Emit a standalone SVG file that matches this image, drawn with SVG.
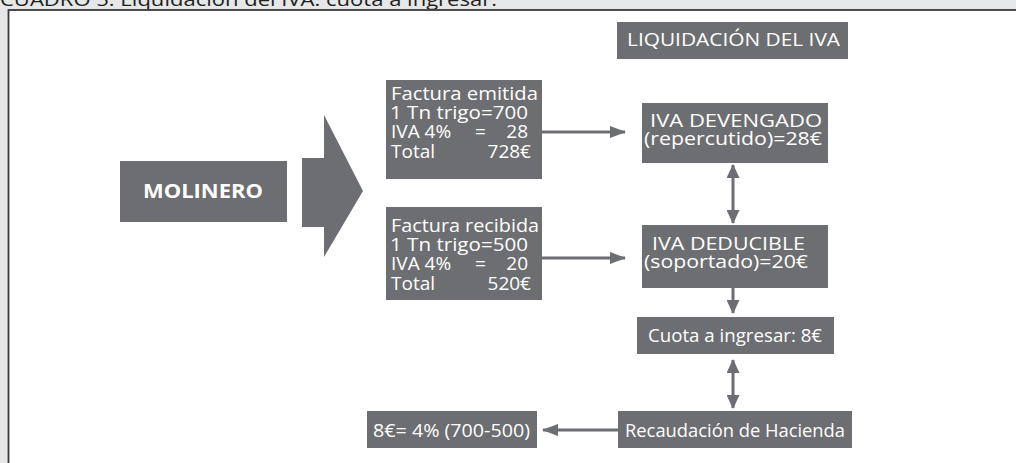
<svg xmlns="http://www.w3.org/2000/svg" width="1016" height="463" viewBox="0 0 1016 463">
<defs>
<style>
.box{fill:#6d6e71}
.t{font-family:"Open Sans",Lato,sans-serif;fill:#ffffff;font-size:19px}
.c{stroke:#6d6e71;stroke-width:3;fill:none}
</style>
<marker id="ah" viewBox="0 0 16 12" refX="15" refY="6" markerWidth="16" markerHeight="12" markerUnits="userSpaceOnUse" orient="auto-start-reverse">
<path d="M0,0 L16,6 L0,12 Z" fill="#6d6e71"/>
</marker>
<marker id="ahv" viewBox="0 0 14 13" refX="13" refY="6.5" markerWidth="14" markerHeight="13" markerUnits="userSpaceOnUse" orient="auto-start-reverse">
<path d="M0,0 L14,6.5 L0,13 Z" fill="#6d6e71"/>
</marker>
</defs>
<rect x="0" y="0" width="1016" height="463" fill="#e6e7e8"/>
<text x="0" y="6" font-family="'Open Sans',Lato,sans-serif" font-size="19" fill="#231f20" textLength="497" lengthAdjust="spacingAndGlyphs">CUADRO 5. Liquidación del IVA: cuota a ingresar.</text>
<rect x="8.5" y="10" width="1020" height="470" fill="#ffffff" stroke="#3a3a3c" stroke-width="1.8"/>

<g id="titulo">
<rect class="box" x="617" y="22" width="231" height="37"/>
<text class="t" x="627" y="46" textLength="213" lengthAdjust="spacingAndGlyphs">LIQUIDACIÓN DEL IVA</text>
</g>

<g id="molinero">
<rect class="box" x="120" y="161" width="167" height="61"/>
<text class="t" x="143" y="198" font-weight="bold" textLength="120" lengthAdjust="spacingAndGlyphs">MOLINERO</text>
</g>

<g id="flecha-grande">
<path class="box" d="M302,158 L324,158 L324,115 L363,191 L324,257 L324,227 L302,227 Z"/>
</g>

<g id="factura-emitida">
<rect class="box" x="386" y="80" width="156" height="99"/>
<text class="t" x="391" y="100" textLength="147" lengthAdjust="spacingAndGlyphs">Factura emitida</text>
<text class="t" x="390" y="119" textLength="138" lengthAdjust="spacingAndGlyphs">1 Tn trigo=700</text>
<text class="t" x="391" y="138">IVA 4%</text>
<text class="t" x="475" y="138">=</text>
<text class="t" x="528" y="138" text-anchor="end">28</text>
<text class="t" x="391" y="158">Total</text>
<text class="t" x="531" y="158" text-anchor="end">728€</text>
</g>

<g id="factura-recibida">
<rect class="box" x="386" y="207" width="156" height="93"/>
<text class="t" x="391" y="232" textLength="148" lengthAdjust="spacingAndGlyphs">Factura recibida</text>
<text class="t" x="390" y="251" textLength="138" lengthAdjust="spacingAndGlyphs">1 Tn trigo=500</text>
<text class="t" x="391" y="270">IVA 4%</text>
<text class="t" x="475" y="270">=</text>
<text class="t" x="528" y="270" text-anchor="end">20</text>
<text class="t" x="391" y="290">Total</text>
<text class="t" x="531" y="290" text-anchor="end">520€</text>
</g>

<g id="iva-devengado">
<rect class="box" x="642" y="103" width="186" height="60"/>
<text class="t" x="650" y="127" textLength="172" lengthAdjust="spacingAndGlyphs">IVA DEVENGADO</text>
<text class="t" x="644" y="145" textLength="178" lengthAdjust="spacingAndGlyphs">(repercutido)=28€</text>
</g>

<g id="iva-deducible">
<rect class="box" x="642" y="225" width="186" height="63"/>
<text class="t" x="652" y="250" textLength="153" lengthAdjust="spacingAndGlyphs">IVA DEDUCIBLE</text>
<text class="t" x="644" y="268" textLength="164" lengthAdjust="spacingAndGlyphs">(soportado)=20€</text>
</g>

<g id="cuota">
<rect class="box" x="637" y="317" width="197" height="37"/>
<text class="t" x="648" y="342" textLength="174" lengthAdjust="spacingAndGlyphs">Cuota a ingresar: 8€</text>
</g>

<g id="recaudacion">
<rect class="box" x="618" y="411" width="234" height="37"/>
<text class="t" x="625" y="437" textLength="220" lengthAdjust="spacingAndGlyphs">Recaudación de Hacienda</text>
</g>

<g id="resultado">
<rect class="box" x="367" y="411" width="170" height="37"/>
<text class="t" x="373" y="437" textLength="157" lengthAdjust="spacingAndGlyphs">8€= 4% (700-500)</text>
</g>

<g id="conectores">
<line class="c" x1="542" y1="132" x2="625" y2="132" marker-end="url(#ah)"/>
<line class="c" x1="542" y1="258" x2="625" y2="258" marker-end="url(#ah)"/>
<line class="c" x1="733" y1="165" x2="733" y2="223" marker-start="url(#ahv)" marker-end="url(#ahv)"/>
<line class="c" x1="733" y1="288" x2="733" y2="313" marker-end="url(#ahv)"/>
<line class="c" x1="733" y1="360" x2="733" y2="408" marker-start="url(#ahv)" marker-end="url(#ahv)"/>
<line class="c" x1="618" y1="430" x2="543" y2="430" marker-end="url(#ah)"/>
</g>
</svg>
